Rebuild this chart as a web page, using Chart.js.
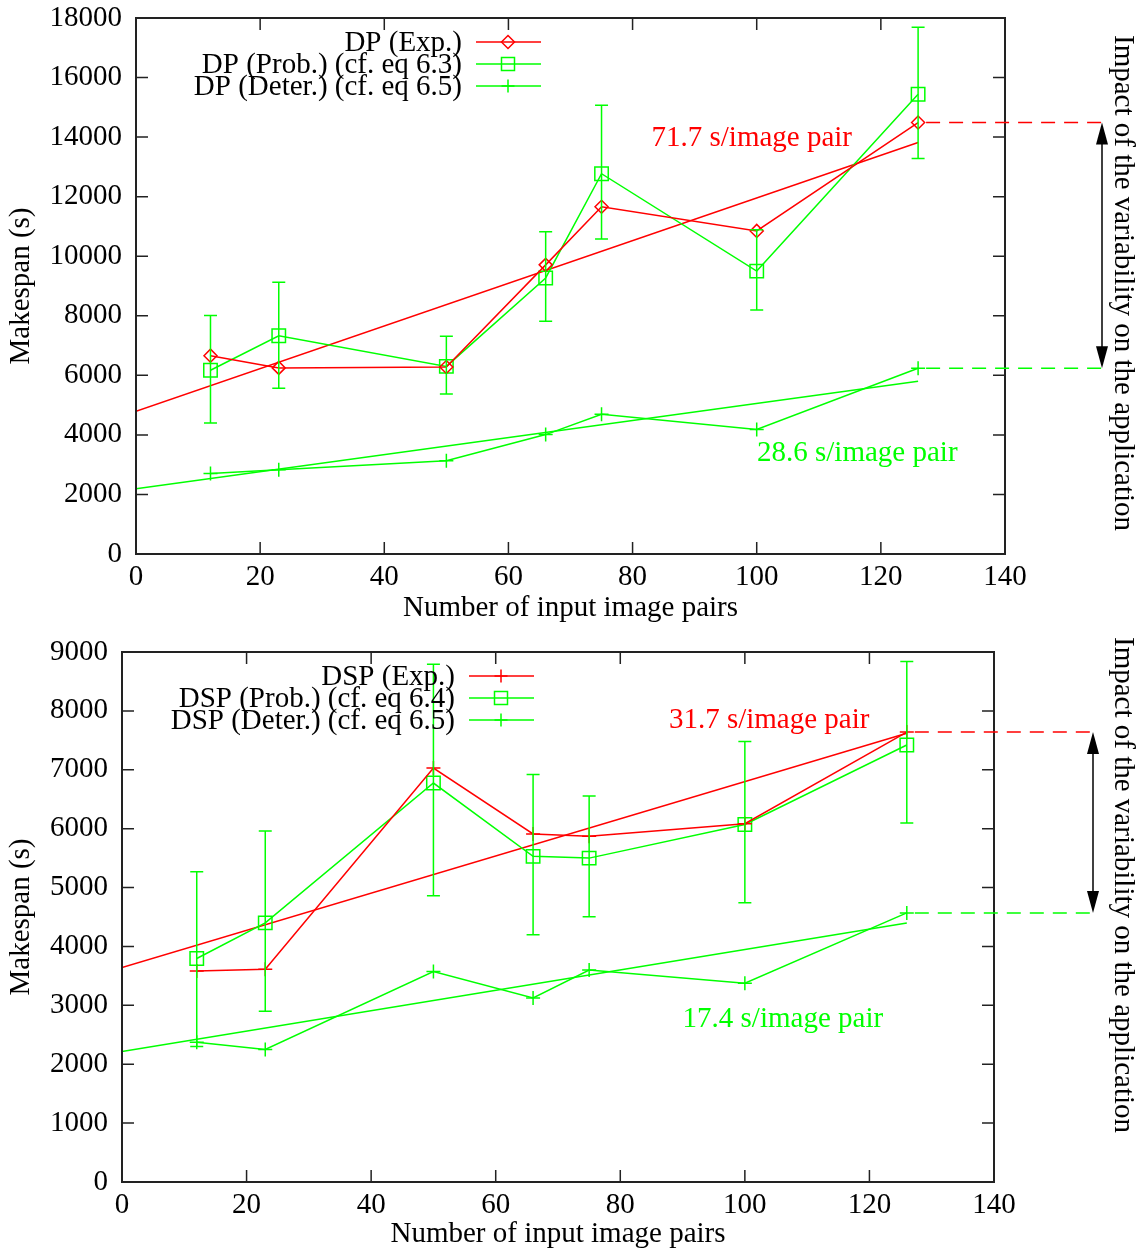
<!DOCTYPE html>
<html><head><meta charset="utf-8">
<script src="https://cdn.jsdelivr.net/npm/chart.js@4.4.0/dist/chart.umd.min.js"></script>
<style>
html,body{margin:0;padding:0;background:#fff;}
.w{width:1144px;height:626px;position:relative;}
canvas{display:block;}
</style>
</head><body>
<div class="w"><canvas id="c1" width="1144" height="626"></canvas></div>
<div class="w"><canvas id="c2" width="1144" height="626"></canvas></div>
<script>
// ---------- data ----------
const xPairs = [12, 23, 50, 66, 75, 100, 126];
const xTicks = [0, 20, 40, 60, 80, 100, 120, 140];
const fitX = [0, 126];

// Top chart: DP
const dpYTicks = [0, 2000, 4000, 6000, 8000, 10000, 12000, 14000, 16000, 18000];
const dpExp = [6660, 6250, 6280, 9710, 11660, 10850, 14490];
const dpProb = [6170, 7330, 6300, 9270, 12770, 9500, 15440];
const dpProbLow = [4400, 5570, 5370, 7820, 10580, 8190, 13280];
const dpProbHigh = [8010, 9130, 7310, 10820, 15070, 10890, 17690];
const dpDeter = [2700, 2830, 3130, 4010, 4690, 4180, 6240];
const dpExpFit = [4790, 13820];
const dpDeterFit = [2190, 5800];

// Bottom chart: DSP
const dspYTicks = [0, 1000, 2000, 3000, 4000, 5000, 6000, 7000, 8000, 9000];
const dspExp = [3585, 3613, 7030, 5910, 5870, 6085, 7640];
const dspProb = [3795, 4400, 6775, 5530, 5500, 6070, 7420];
const dspProbLow = [2300, 2900, 4860, 4200, 4505, 4740, 6095];
const dspProbHigh = [5270, 5960, 8790, 6920, 6555, 7480, 8840];
const dspDeter = [2375, 2250, 3575, 3125, 3600, 3375, 4570];
const dspExpFit = [3640, 7620];
const dspDeterFit = [2215, 4400];

const dpLabels = ['DP (Exp.)', 'DP (Prob.) (cf. eq 6.3)', 'DP (Deter.) (cf. eq 6.5)'];
const dspLabels = ['DSP (Exp.)', 'DSP (Prob.) (cf. eq 6.4)', 'DSP (Deter.) (cf. eq 6.5)'];
const dpRates = ['71.7 s/image pair', '28.6 s/image pair'];
const dspRates = ['31.7 s/image pair', '17.4 s/image pair'];
const sideText = 'Impact of the variability on the application';

// ---------- styling ----------
const RED = '#ff0000';
const GREEN = '#00ff00';
const FONT = "'Liberation Serif', 'Times New Roman', serif";
const FS = 29;
Chart.defaults.font.family = FONT;
Chart.defaults.font.size = FS;
Chart.defaults.color = '#000';

function pts(xs, ys) { return xs.map((x, i) => ({x: x, y: ys[i]})); }

function marker(ctx, style, x, y, r, color) {
  ctx.save();
  ctx.strokeStyle = color; ctx.lineWidth = 1.5; ctx.beginPath();
  if (style === 'rectRot') {
    ctx.moveTo(x, y - r); ctx.lineTo(x + r, y); ctx.lineTo(x, y + r); ctx.lineTo(x - r, y); ctx.closePath();
  } else if (style === 'rect') {
    ctx.rect(x - r, y - r, 2 * r, 2 * r);
  } else {
    ctx.moveTo(x - r, y); ctx.lineTo(x + r, y); ctx.moveTo(x, y - r); ctx.lineTo(x, y + r);
  }
  ctx.stroke(); ctx.restore();
}

const gframe = {
  id: 'gframe',
  afterDatasetsDraw(chart, args, o) {
    const ctx = chart.ctx, x = chart.scales.x, y = chart.scales.y;
    ctx.save();
    ctx.strokeStyle = GREEN; ctx.lineWidth = 1.5;
    xPairs.forEach((xv, i) => {
      const px = x.getPixelForValue(xv);
      const lo = y.getPixelForValue(o.low[i]), hi = y.getPixelForValue(o.high[i]);
      ctx.beginPath();
      ctx.moveTo(px, lo); ctx.lineTo(px, hi);
      ctx.moveTo(px - 6.5, lo); ctx.lineTo(px + 6.5, lo);
      ctx.moveTo(px - 6.5, hi); ctx.lineTo(px + 6.5, hi);
      ctx.stroke();
    });
    ctx.restore();
  },
  afterDraw(chart, args, o) {
    const ctx = chart.ctx, a = chart.chartArea, x = chart.scales.x, y = chart.scales.y;
    ctx.save();
    ctx.strokeStyle = '#222'; ctx.lineWidth = 2;
    ctx.strokeRect(a.left, a.top, a.right - a.left, a.bottom - a.top);
    ctx.lineWidth = 1.5;
    ctx.beginPath();
    xTicks.forEach(v => {
      if (v === x.min || v === x.max) return;
      const px = x.getPixelForValue(v);
      ctx.moveTo(px, a.bottom); ctx.lineTo(px, a.bottom - 12);
      ctx.moveTo(px, a.top); ctx.lineTo(px, a.top + 12);
    });
    o.yTicks.forEach(v => {
      if (v === y.min || v === y.max) return;
      const py = y.getPixelForValue(v);
      ctx.moveTo(a.left, py); ctx.lineTo(a.left + 12, py);
      ctx.moveTo(a.right, py); ctx.lineTo(a.right - 12, py);
    });
    ctx.stroke();

    // legend
    ctx.font = FS + 'px ' + FONT;
    ctx.textAlign = 'right'; ctx.textBaseline = 'middle';
    o.legend.forEach((it, i) => {
      const ty = a.top + o.legTop + i * 22;
      const tx = a.left + o.legRight;
      ctx.fillStyle = '#000';
      ctx.fillText(it.text, tx, ty + 1);
      ctx.strokeStyle = it.color; ctx.lineWidth = 1.5;
      ctx.beginPath(); ctx.moveTo(tx + 14, ty); ctx.lineTo(tx + 79, ty); ctx.stroke();
      marker(ctx, it.style, tx + 46, ty, it.r, it.color);
    });

    // rate labels
    ctx.textAlign = 'center';
    o.notes.forEach(n => {
      ctx.fillStyle = n.color;
      ctx.fillText(n.text, x.getPixelForValue(n.x), y.getPixelForValue(n.y));
    });

    // dashed guides and double arrow
    const ax = a.right + o.arrowDx;
    const yTop = y.getPixelForValue(o.topVal), yBot = y.getPixelForValue(o.botVal);
    const x0 = x.getPixelForValue(xPairs[xPairs.length - 1]);
    ctx.setLineDash([14, 9]); ctx.lineWidth = 1.5;
    ctx.strokeStyle = RED; ctx.beginPath(); ctx.moveTo(x0 + 8, yTop); ctx.lineTo(ax, yTop); ctx.stroke();
    ctx.strokeStyle = GREEN; ctx.beginPath(); ctx.moveTo(x0 + 8, yBot); ctx.lineTo(ax, yBot); ctx.stroke();
    ctx.setLineDash([]);
    ctx.strokeStyle = '#000'; ctx.fillStyle = '#000'; ctx.lineWidth = 1.5;
    ctx.beginPath(); ctx.moveTo(ax, yTop + 10); ctx.lineTo(ax, yBot - 10); ctx.stroke();
    ctx.beginPath(); ctx.moveTo(ax, yTop); ctx.lineTo(ax - 6, yTop + 22); ctx.lineTo(ax + 6, yTop + 22); ctx.closePath(); ctx.fill();
    ctx.beginPath(); ctx.moveTo(ax, yBot); ctx.lineTo(ax - 6, yBot - 22); ctx.lineTo(ax + 6, yBot - 22); ctx.closePath(); ctx.fill();

    // rotated side text
    ctx.save();
    ctx.translate(a.right + o.sideDx, a.top + o.sideDy);
    ctx.rotate(Math.PI / 2);
    ctx.textAlign = 'left'; ctx.textBaseline = 'middle'; ctx.fillStyle = '#000';
    ctx.fillText(sideText, 0, 0);
    ctx.restore();
    ctx.restore();
  }
};

function makeChart(id, c) {
  const ds = (label, data, color, style, r) => ({
    label: label, data: data, borderColor: color, borderWidth: 1.5, tension: 0, fill: false,
    pointStyle: style, pointRadius: r, pointBorderColor: color, pointBackgroundColor: 'rgba(0,0,0,0)',
    pointBorderWidth: 1.5
  });
  const fit = (data, color) => ({data: data, borderColor: color, borderWidth: 1.5, pointRadius: 0, tension: 0, fill: false});
  const noPad = s => { s.paddingTop = 0; s.paddingBottom = 0; s.paddingLeft = 0; s.paddingRight = 0; };
  return new Chart(document.getElementById(id), {
    type: 'line',
    data: {datasets: [
      ds(c.labels[0], pts(xPairs, c.exp), RED, c.expStyle, c.expR),
      ds(c.labels[1], pts(xPairs, c.prob), GREEN, 'rect', 9.5),
      ds(c.labels[2], pts(xPairs, c.deter), GREEN, 'cross', 7),
      fit(pts(fitX, c.expFit), RED),
      fit(pts(fitX, c.deterFit), GREEN)
    ]},
    options: {
      responsive: false, animation: false, devicePixelRatio: 1,
      layout: {padding: {left: 0, right: c.padRight, top: c.padTop, bottom: 0}},
      plugins: {
        legend: {display: false}, tooltip: {enabled: false},
        gframe: {
          low: c.low, high: c.high, yTicks: c.yTicks,
          legend: [
            {text: c.labels[0], color: RED, style: c.expStyle, r: 6.5},
            {text: c.labels[1], color: GREEN, style: 'rect', r: 6.5},
            {text: c.labels[2], color: GREEN, style: 'cross', r: 6.5}
          ],
          legTop: c.legTop, legRight: c.legRight,
          notes: c.notes,
          topVal: c.exp[c.exp.length - 1], botVal: c.deter[c.deter.length - 1],
          arrowDx: c.arrowDx, sideDx: c.sideDx, sideDy: c.sideDy
        }
      },
      scales: {
        x: {
          type: 'linear', min: 0, max: 140,
          afterBuildTicks: s => { s.ticks = xTicks.map(v => ({value: v})); },
          afterFit: s => { s.height = c.xH; noPad(s); },
          grid: {display: false, drawTicks: false}, border: {display: false},
          ticks: {color: '#000', padding: 6, maxRotation: 0, autoSkip: false, font: {size: FS}, callback: v => String(v)},
          title: {display: true, text: 'Number of input image pairs', color: '#000', font: {size: FS}, padding: {top: 0, bottom: c.xTitlePad}}
        },
        y: {
          type: 'linear', min: 0, max: c.yTicks[c.yTicks.length - 1],
          afterBuildTicks: s => { s.ticks = c.yTicks.map(v => ({value: v})); },
          afterFit: s => { s.width = c.yW; noPad(s); },
          grid: {display: false, drawTicks: false}, border: {display: false},
          ticks: {color: '#000', padding: 14, autoSkip: false, font: {size: FS}, callback: v => String(v)},
          title: {display: true, text: 'Makespan (s)', color: '#000', font: {size: FS}, padding: {top: 4, bottom: 0}}
        }
      }
    },
    plugins: [gframe]
  });
}

makeChart('c1', {
  labels: dpLabels, exp: dpExp, prob: dpProb, deter: dpDeter, low: dpProbLow, high: dpProbHigh,
  expFit: dpExpFit, deterFit: dpDeterFit, yTicks: dpYTicks, expStyle: 'rectRot', expR: 6.5,
  padRight: 139, padTop: 18, xH: 72, yW: 136, xTitlePad: 0,
  legTop: 24, legRight: 326, arrowDx: 97, sideDx: 118, sideDy: 17,
  notes: [
    {text: dpRates[0], x: 99.2, y: 13950, color: RED},
    {text: dpRates[1], x: 116.2, y: 3370, color: GREEN}
  ]
});
makeChart('c2', {
  labels: dspLabels, exp: dspExp, prob: dspProb, deter: dspDeter, low: dspProbLow, high: dspProbHigh,
  expFit: dspExpFit, deterFit: dspDeterFit, yTicks: dspYTicks, expStyle: 'cross', expR: 7,
  padRight: 150, padTop: 26, xH: 70, yW: 122, xTitlePad: 0,
  legTop: 24, legRight: 333, arrowDx: 99, sideDx: 129, sideDy: -15,
  notes: [
    {text: dspRates[0], x: 103.9, y: 7846, color: RED},
    {text: dspRates[1], x: 106.1, y: 2766, color: GREEN}
  ]
});
</script>
</body></html>
